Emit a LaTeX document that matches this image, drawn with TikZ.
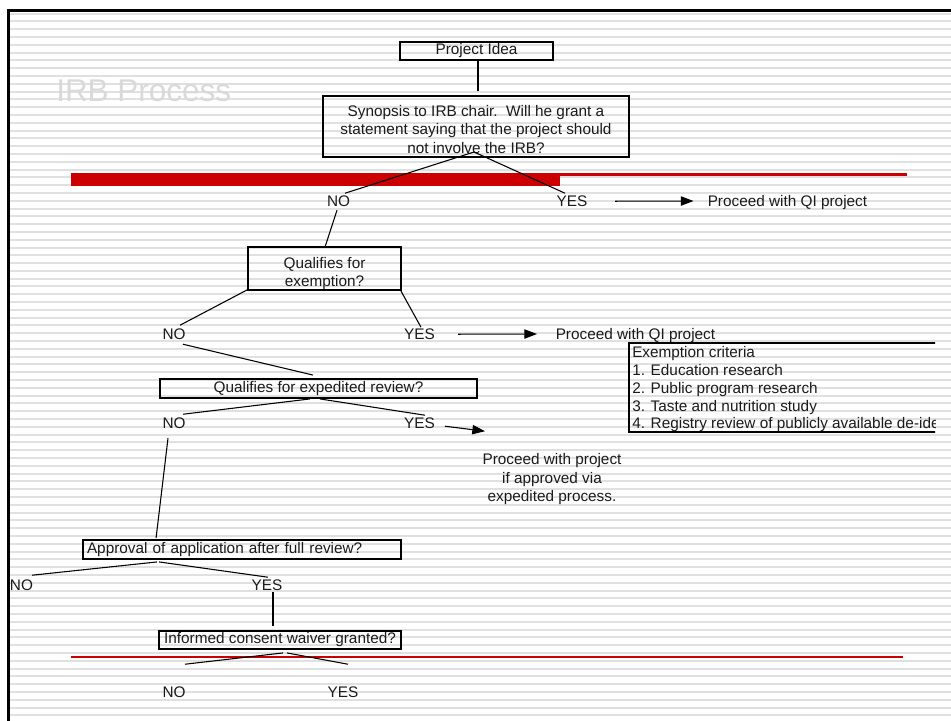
\documentclass[tikz,border=0pt]{standalone}
\usepackage{fontspec}
\setmainfont{Liberation Sans}
\usetikzlibrary{arrows.meta}
\definecolor{irbred}{HTML}{CC0000}
\definecolor{stripe}{HTML}{E0E0E0}
\definecolor{titlegray}{HTML}{D9D9D9}
\definecolor{ink}{HTML}{1A1A1A}
\begin{document}
\begin{tikzpicture}[x=0.75pt,y=-0.75pt,
  every node/.style={font=\fontsize{11.5pt}{13.9pt}\selectfont, text=ink, inner sep=0pt},
  box/.style={draw=black, line width=1.4pt, align=center},
  lbl/.style={anchor=base},
  conn/.style={draw=black, line width=0.8pt},
  arr/.style={conn, -{Triangle[length=9.5pt,width=7pt]}},
  stripeline/.style={draw=stripe, line width=1.5pt},
  redbar/.style={fill=irbred},
  frameline/.style={draw=black, line width=2.25pt}
]
\useasboundingbox (0,0) rectangle (951,721);
% background stripes
\foreach \k in {0,...,90}{
  \draw[stripeline] (10,{13.6+7.797*\k}) -- (951,{13.6+7.797*\k});
}
% red bars
\fill[redbar] (71,173) rectangle (560,186);
\fill[redbar] (560,173) rectangle (907,175.5);
\fill[redbar] (71,656) rectangle (903,658);
% frame
\draw[frameline] (8.5,730) -- (8.5,10.5) -- (960,10.5);

% title
\node[anchor=base west, font=\fontsize{23.6pt}{28pt}\selectfont, text=titlegray] (title) at (56,101) {IRB Process};

% boxes
\node[box, minimum width=114.75pt, minimum height=13.5pt] (pi) at (476.5,51) {Project Idea};
\node[box, minimum width=229.5pt, minimum height=45.75pt] (syn) at (476,126.5)
  {\rule{0pt}{12.2pt}Synopsis to IRB chair.\ \ Will he grant a\\statement saying that the project should\\not involve the IRB?};
\node[box, minimum width=114.75pt, minimum height=32.25pt] (qe) at (324.5,268.5)
  {\rule{0pt}{15.9pt}Qualifies for\\exemption?};
\node[box, minimum width=237.75pt, minimum height=14.25pt] (exp) at (318.5,388.5) {Qualifies for expedited review?};
\node[box, minimum width=238.5pt, minimum height=14.25pt, inner xsep=3pt, text width=232.5pt, align=left] (app) at (242,549.5) {Approval of application after full review?};
\node[box, minimum width=181.5pt, minimum height=13.5pt] (inf) at (280,640) {Informed consent waiver granted?};

% labels
\node[lbl] (no1) at (338.5,206.5) {NO};
\node[lbl] (yes1) at (572,206.5) {YES};
\node[anchor=base west] (pq1) at (707.5,206.5) {Proceed with QI project};
\node[lbl] (no2) at (174,339.5) {NO};
\node[lbl] (yes2) at (419.5,339.5) {YES};
\node[anchor=base west] (pq2) at (555.5,339.5) {Proceed with QI project};
\node[lbl] (no3) at (174,428.5) {NO};
\node[lbl] (yes3) at (419.5,428.5) {YES};
\node[anchor=north, align=center, font=\fontsize{11.5pt}{13.9pt}\selectfont] (pw) at (552,453.5)
  {Proceed with project\\if approved via\\expedited process.};
\node[lbl] (no4) at (21.5,590.5) {NO};
\node[lbl] (yes4) at (267,590.5) {YES};
\node[lbl] (no5) at (174,697.2) {NO};
\node[lbl] (yes5) at (343,697.2) {YES};

% exemption criteria box
\begin{scope}
\clip (600,330) rectangle (935,445);
\node[anchor=north west, align=left, inner xsep=2.25pt, inner ysep=0pt, minimum width=229.5pt,
      font=\fontsize{11.5pt}{13.35pt}\selectfont] (ex) at (629,343)
  {\rule{0pt}{10.85pt}Exemption criteria\\1. Education research\\2. Public program research\\3. Taste and nutrition study\\4. Registry review of publicly available de-ide};
\draw[line width=1.4pt] ([xshift=40pt]ex.north east) -- (ex.north west) -- (ex.south west) -- ([xshift=40pt]ex.south east);
\end{scope}

% connectors
\draw[conn] ([shift={(1.5,0)}]pi.south) -- ([shift={(2,-4)}]syn.north);
\draw[conn] ([shift={(-2,25.5)}]syn.center) -- ([shift={(6.5,-8)}]no1.center);
\draw[conn] ([shift={(-2,25.5)}]syn.center) -- ([shift={(-7,-8)}]yes1.center);
\draw[arr] ([shift={(43,0)}]yes1.center) -- ([shift={(-14,-5.5)}]pq1.base west);
\draw[conn] ([shift={(-1.5,9)}]no1.center) -- ([shift={(0.5,1)}]qe.north);
\draw[conn] ([shift={(0,-1)}]qe.south west) -- ([shift={(6,-9)}]no2.center);
\draw[conn] ([shift={(-1,0)}]qe.south east) -- ([shift={(1.5,-7)}]yes2.center);
\draw[arr] ([shift={(38.5,0)}]yes2.center) -- ([shift={(-18.5,-5.5)}]pq2.base west);
\draw[conn] ([shift={(9,10)}]no2.center) -- ([shift={(-5.5,-3)}]exp.north);
\draw[conn] ([shift={(-8.5,0)}]exp.south) -- ([shift={(9,-9)}]no3.center);
\draw[conn] ([shift={(1.5,0)}]exp.south) -- ([shift={(5.5,-8)}]yes3.center);
\draw[arr] ([shift={(25.5,3)}]yes3.center) -- ([shift={(65.5,8)}]yes3.center);
\draw[conn] ([shift={(-6,15)}]no3.center) -- ([shift={(74,-1)}]app.north west);
\draw[conn] ([shift={(75,2)}]app.south west) -- ([shift={(10.5,-10)}]no4.center);
\draw[conn] ([shift={(77,2)}]app.south west) -- ([shift={(1,-8)}]yes4.center);
\draw[conn] ([shift={(6,7)}]yes4.center) -- ([shift={(-7,-4)}]inf.north);
\draw[conn] ([shift={(3,3)}]inf.south) -- ([shift={(11,-27.7)}]no5.center);
\draw[conn] ([shift={(7,3)}]inf.south) -- ([shift={(5,-27.7)}]yes5.center);
\end{tikzpicture}
\end{document}
